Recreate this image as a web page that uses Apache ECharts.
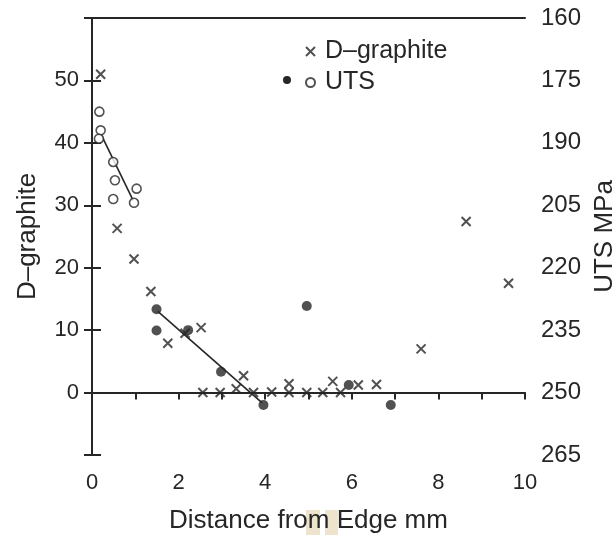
<!DOCTYPE html>
<html>
<head>
<meta charset="utf-8">
<script src="https://cdn.jsdelivr.net/npm/echarts@6/dist/echarts.min.js"></script>
<style>
html,body{margin:0;padding:0;background:#fff;overflow:hidden;}
#main{width:615px;height:535px;}
</style>
</head>
<body>
<div id="main"></div>
<script>
// D-graphite points [distance mm, D-graphite]
var dGraphite = [
  [0.2, 51], [0.58, 26.3], [0.97, 21.4], [1.36, 16.2], [1.75, 7.9], [2.15, 9.5],
  [2.52, 10.4], [2.56, 0], [2.96, 0], [3.33, 0.6], [3.5, 2.7], [3.73, 0],
  [4.15, 0.1], [4.55, 1.4], [4.55, 0], [4.96, 0], [5.33, 0], [5.56, 1.8],
  [5.74, 0], [6.15, 1.2], [6.57, 1.3], [7.6, 7.0], [8.64, 27.4], [9.62, 17.5]
];
// UTS (MPa) open circles
var utsOpen = [
  [0.17, 182.5], [0.2, 187], [0.16, 189], [0.49, 194.6], [0.53, 199],
  [0.49, 203.5], [1.03, 201], [0.97, 204.4]
];
// UTS (MPa) filled circles
var utsFilled = [
  [1.49, 230], [1.49, 235.1], [2.22, 235], [2.98, 245], [3.96, 253],
  [4.96, 229.2], [5.93, 248.2], [6.9, 253]
];
// trend lines (end points)
var fitOpen = [[0.22, 188.2], [0.95, 203.8]];
var fitFilled = [[1.52, 230.5], [3.93, 252.5]];

var xTicks = [0, 2, 4, 6, 8, 10];
var leftTicks = [0, 10, 20, 30, 40, 50];
var rightTicks = [160, 175, 190, 205, 220, 235, 250, 265];

var ink = '#262626';
var font = 'Liberation Sans, Arial, Helvetica, sans-serif';

var chart = echarts.init(document.getElementById('main'), null, {renderer: 'canvas', width: 615, height: 535});
var option = {
  animation: false,
  backgroundColor: '#fff',
  textStyle: {fontFamily: font, color: ink},
  grid: {left: 92, right: 90, top: 18, bottom: 80, containLabel: false, outerBoundsMode: 'none'},
  legend: {
    orient: 'vertical',
    left: 300,
    top: 34,
    itemWidth: 9,
    itemHeight: 9,
    itemGap: 6,
    textStyle: {fontSize: 25, color: ink, fontFamily: font, lineHeight: 25, padding: [0, 0, 0, 5]},
    data: ['D–graphite', 'UTS']
  },
  graphic: [
    {type: 'circle', shape: {cx: 287, cy: 80, r: 4}, style: {fill: ink}},
    {type: 'rect', z: -10, shape: {x: 306, y: 510, width: 14, height: 25}, style: {fill: '#eee3cd'}},
    {type: 'rect', z: -10, shape: {x: 325, y: 510, width: 13, height: 25}, style: {fill: '#eee3cd'}}
  ],
  xAxis: [{
    type: 'value', position: 'bottom', min: 0, max: 10, interval: 1,
    axisLine: {show: true, lineStyle: {color: ink, width: 2}},
    axisTick: {show: true, inside: false, length: 7, lineStyle: {color: ink, width: 2}},
    axisLabel: {
      fontSize: 22, color: ink, margin: 17, fontFamily: font,
      formatter: function (v) { return xTicks.indexOf(v) >= 0 ? String(v) : ''; }
    },
    splitLine: {show: false},
    name: 'Distance from Edge mm', nameLocation: 'middle', nameGap: 53,
    nameTextStyle: {fontSize: 26, color: ink, fontFamily: font}
  }, {
    type: 'value', position: 'top', min: 0, max: 10,
    axisLine: {show: true, lineStyle: {color: ink, width: 2}},
    axisTick: {show: false}, axisLabel: {show: false}, splitLine: {show: false}
  }],
  yAxis: [{
    type: 'value', position: 'left', min: -10, max: 60, interval: 10,
    axisLine: {show: true, lineStyle: {color: ink, width: 2}},
    axisTick: {show: true, inside: false, length: 8, lineStyle: {color: ink, width: 2}},
    axisLabel: {
      fontSize: 22, color: ink, margin: 13, fontFamily: font,
      formatter: function (v) { return leftTicks.indexOf(v) >= 0 ? String(v) : ''; }
    },
    splitLine: {show: false},
    name: 'D–graphite', nameLocation: 'middle', nameRotate: 90, nameGap: 51,
    nameTextStyle: {fontSize: 26, color: ink, fontFamily: font}
  }, {
    type: 'value', position: 'right', min: 160, max: 265, interval: 15, inverse: true,
    axisLine: {show: true, lineStyle: {color: ink, width: 2}},
    axisTick: {show: true, inside: false, length: 9, lineStyle: {color: ink, width: 2}},
    axisLabel: {
      fontSize: 24, color: ink, margin: 16, fontFamily: font,
      formatter: function (v) { return rightTicks.indexOf(v) >= 0 ? String(v) : ''; }
    },
    splitLine: {show: false},
    name: 'UTS MPa', nameLocation: 'middle', nameRotate: 90, nameGap: 63,
    nameTextStyle: {fontSize: 26, color: ink, fontFamily: font}
  }],
  series: [{
    name: 'D–graphite', type: 'scatter', xAxisIndex: 0, yAxisIndex: 0,
    symbol: 'path://M0,0L10,10M10,0L0,10', symbolSize: 9,
    itemStyle: {color: 'rgba(0,0,0,0)', borderColor: ink, borderWidth: 2},
    data: dGraphite, z: 3
  }, {
    name: 'UTS', type: 'scatter', xAxisIndex: 0, yAxisIndex: 1,
    symbol: 'circle', symbolSize: 9,
    itemStyle: {color: '#fff', borderColor: ink, borderWidth: 1.6},
    data: utsOpen, z: 4
  }, {
    name: 'UTS filled', type: 'scatter', xAxisIndex: 0, yAxisIndex: 1,
    symbol: 'circle', symbolSize: 10,
    itemStyle: {color: ink},
    data: utsFilled, z: 4
  }, {
    name: 'fit open', type: 'line', xAxisIndex: 0, yAxisIndex: 1,
    showSymbol: false, symbol: 'none',
    lineStyle: {color: ink, width: 1.6},
    data: fitOpen, z: 2
  }, {
    name: 'fit filled', type: 'line', xAxisIndex: 0, yAxisIndex: 1,
    showSymbol: false, symbol: 'none',
    lineStyle: {color: ink, width: 1.6},
    data: fitFilled, z: 2
  }]
};
chart.setOption(option);
</script>
</body>
</html>
